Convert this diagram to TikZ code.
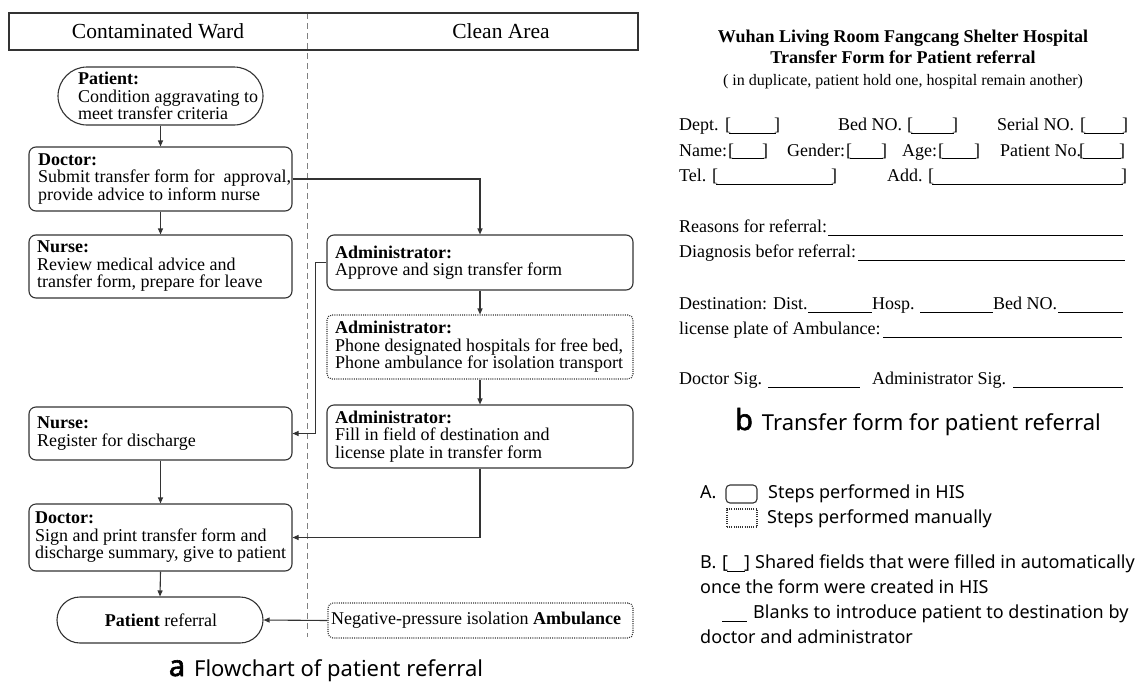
\documentclass[tikz,border=0pt]{standalone}
\usepackage{fontspec}
\setmainfont{Liberation Serif}
\newfontfamily\sansf{Noto Sans}
\newfontfamily\sansbf{Noto Sans}[FakeBold=2]
\usetikzlibrary{arrows.meta}
\definecolor{lc}{HTML}{333333}
\definecolor{dv}{HTML}{808080}
\newcommand\fsz{\fontsize{18}{17.5}\selectfont}
\newcommand\frm{\fontsize{18}{25}\selectfont}
\newcommand\fld[1]{[\kern-2pt\rule[-3.2pt]{\dimexpr#1pt-8pt\relax}{0.8pt}\kern-2pt]}
\newcommand\uln[1]{\rule[-3.5pt]{#1pt}{0.8pt}}
\begin{document}
\begin{tikzpicture}[x=1pt,y=-1pt,
  box/.style={draw=lc, line width=1.1pt, rounded corners=7pt, inner sep=0pt},
  dbox/.style={box, dash pattern=on 1pt off 1.2pt, rounded corners=5pt},
  pill/.style={draw=lc, line width=1.1pt, inner sep=0pt},
  txt/.style={anchor=west, align=left, inner sep=0pt, font=\fsz, text=black},
  arr/.style={draw=lc, line width=1.1pt, -{Triangle[length=6pt,width=5pt]}},
  ft/.style={anchor=base west, inner sep=0pt, font=\frm},
  lg/.style={anchor=base west, inner sep=0pt, font=\sansf\fontsize{18}{22}\selectfont},
  capt/.style={anchor=base, inner sep=0pt, font=\sansf\fontsize{22}{24}\selectfont},
]
\useasboundingbox (0,0) rectangle (1148,683);
\fill[white] (0,0) rectangle (1148,683);

% header and divider
\coordinate (dvt) at (307,13);
\coordinate (dvb) at (307,637);
\draw[dv, line width=1pt, dash pattern=on 6pt off 4pt] (dvt) -- (dvb);
\node[draw=lc, line width=1.2pt, minimum width=629pt, minimum height=37pt, inner sep=0pt] (hdr) at (323.5,31.5) {};
\node[inner sep=0pt, font=\fontsize{21.5}{24}\selectfont] (hcw) at (158,31.5) {Contaminated Ward};
\node[inner sep=0pt, font=\fontsize{21.5}{24}\selectfont] (hca) at (501,31.5) {Clean Area};

% left column
\node[pill, rounded corners=29pt, minimum width=205pt, minimum height=58pt] (pat) at (160.5,96) {};
\node[txt] (patt) at (78,96) {\textbf{Patient:}\\Condition aggravating to\\meet transfer criteria};

\node[box, minimum width=263pt, minimum height=64pt] (doc1) at (160.5,179) {};
\node[txt] (doc1t) at (38,179) {\textbf{Doctor:}\\Submit transfer form for\ \ approval,\\provide advice to inform nurse};

\node[box, minimum width=263pt, minimum height=63pt] (nur1) at (160.5,266.5) {};
\node[txt] (nur1t) at (37,266.5) {\textbf{Nurse:}\\Review medical advice and\\transfer form, prepare for leave};

\node[box, minimum width=263pt, minimum height=53pt] (nur2) at (160.5,433.5) {};
\node[txt] (nur2t) at (37,433.5) {\textbf{Nurse:}\\Register for discharge};

\node[box, minimum width=263pt, minimum height=67pt] (doc2) at (160.5,537.5) {};
\node[txt] (doc2t) at (35,537.5) {\textbf{Doctor:}\\Sign and print transfer form and\\discharge summary, give to patient};

\node[pill, rounded corners=23pt, minimum width=206pt, minimum height=46pt] (ref) at (160,620) {};
\node[inner sep=0pt, font=\fsz] (reft) at (161,620) {\textbf{Patient} referral};

% right column
\node[box, minimum width=306pt, minimum height=55pt] (adm1) at (480,262.5) {};
\node[txt] (adm1t) at (335,262.5) {\textbf{Administrator:}\\Approve and sign transfer form};

\node[dbox, minimum width=306pt, minimum height=64pt] (adm2) at (480,347) {};
\node[txt] (adm2t) at (335,347) {\textbf{Administrator:}\\Phone designated hospitals for free bed,\\Phone ambulance for isolation transport};

\node[box, minimum width=306pt, minimum height=63pt] (adm3) at (480,436.5) {};
\node[txt] (adm3t) at (335,436.5) {\textbf{Administrator:}\\Fill in field of destination and\\license plate in transfer form};

\node[dbox, minimum width=305pt, minimum height=35pt] (amb) at (480.5,620.5) {};
\node[txt] (ambt) at (331,620.5) {Negative-pressure isolation \textbf{Ambulance}};

% connectors
\draw[arr] (pat.south) -- (doc1.north);
\draw[arr] (doc1.south) -- (nur1.north);
\draw[arr] (doc1.east) -| (adm1.north);
\draw[arr] (adm1.south) -- (adm2.north);
\draw[arr] (adm2.south) -- (adm3.north);
\draw[arr] (adm1.west) -- ++(-11,0) |- (nur2.east);
\draw[arr] (nur2.south) -- (doc2.north);
\draw[arr] (adm3.south) |- (doc2.east);
\draw[arr] (doc2.south) -- (ref.north);
\draw[arr] (amb.west) -- (ref.east);

\node[capt] (capa) at (326,676) {{\sansbf\fontsize{29}{29}\selectfont a}\hspace{9pt}Flowchart of patient referral};

% transfer form
\node[anchor=base, inner sep=0pt, font=\fontsize{18}{20}\selectfont\bfseries] (t1) at (903,42) {Wuhan Living Room Fangcang Shelter Hospital};
\node[anchor=base, inner sep=0pt, font=\fontsize{18}{20}\selectfont\bfseries] (t2) at (903,63) {Transfer Form for Patient referral};
\node[anchor=base, inner sep=0pt, font=\fontsize{16}{18}\selectfont] (t3) at (903,85) {( in duplicate, patient hold one, hospital remain another)};

\node[ft] (fdept) at (679,130.5) {Dept.};
\node[ft] (fdeptb) at (725,130.5) {\fld{55}};
\node[ft] (fbed) at (838,130.5) {Bed NO.};
\node[ft] (fbedb) at (907,130.5) {\fld{51}};
\node[ft] (fser) at (997,130.5) {Serial NO.};
\node[ft] (fserb) at (1080,130.5) {\fld{48}};

\node[ft] (fname) at (679,156) {Name:};
\node[ft] (fnameb) at (728,156) {\fld{40}};
\node[ft] (fgen) at (787,156) {Gender:};
\node[ft] (fgenb) at (846,156) {\fld{41}};
\node[ft] (fage) at (902,156) {Age:};
\node[ft] (fageb) at (938,156) {\fld{42}};
\node[ft] (fpno) at (1000,156) {Patient No.};
\node[ft] (fpnob) at (1079,156) {\fld{46}};

\node[ft] (ftel) at (679,181.5) {Tel.};
\node[ft] (ftelb) at (712,181.5) {\fld{125}};
\node[ft] (fadd) at (887,181.5) {Add.};
\node[ft] (faddb) at (928,181.5) {\fld{199}};

\node[ft] (frea) at (679,232.5) {Reasons for referral:};
\node[ft] (freab) at (828,232.5) {\uln{295}};
\node[ft] (fdia) at (679,257.5) {Diagnosis befor referral:};
\node[ft] (fdiab) at (858,257.5) {\uln{267}};

\node[ft] (fdes) at (679,309.5) {Destination: Dist.};
\node[ft] (fdesb) at (808,309.5) {\uln{64}};
\node[ft] (fhos) at (872,309.5) {Hosp.};
\node[ft] (fhosb) at (920,309.5) {\uln{73}};
\node[ft] (fbn) at (993,309.5) {Bed NO.};
\node[ft] (fbnb) at (1058,309.5) {\uln{65}};
\node[ft] (flic) at (679,334.5) {license plate of Ambulance:};
\node[ft] (flicb) at (883,334.5) {\uln{239}};

\node[ft] (fds) at (679,384.5) {Doctor Sig.};
\node[ft] (fdsb) at (768,384.5) {\uln{92}};
\node[ft] (fas) at (872,384.5) {Administrator Sig.};
\node[ft] (fasb) at (1013,384.5) {\uln{110}};

\node[capt] (capb) at (918,430) {{\sansbf\fontsize{29}{29}\selectfont b}\hspace{9pt}Transfer form for patient referral};

% legend
\node[lg] (la) at (700,498.5) {A.};
\node[draw=lc, line width=1.1pt, rounded corners=4pt, minimum width=31pt, minimum height=18pt, inner sep=0pt] (lgbox) at (741.5,494) {};
\node[lg] (la1) at (768,498.5) {Steps performed in HIS};
\node[draw=lc, line width=1.1pt, dash pattern=on 1pt off 1.2pt, minimum width=30pt, minimum height=18pt, inner sep=0pt] (lgdot) at (742,518) {};
\node[lg] (la2) at (767,523.5) {Steps performed manually};
\node[lg] (lb) at (700,568.5) {B.};
\node[lg] (lbb) at (722,568.5) {[\kern-1pt\rule[-3pt]{18pt}{0.8pt}\kern-1pt]};
\node[lg] (lb1) at (755,568.5) {Shared fields that were filled in automatically};
\node[lg] (lb2) at (700,593.5) {once the form were created in HIS};
\node[lg] (lbu) at (722,618.5) {\rule[-3pt]{25pt}{0.8pt}};
\node[lg] (lb3) at (753,618.5) {Blanks to introduce patient to destination by};
\node[lg] (lb4) at (700,643.5) {doctor and administrator};
\end{tikzpicture}
\end{document}
